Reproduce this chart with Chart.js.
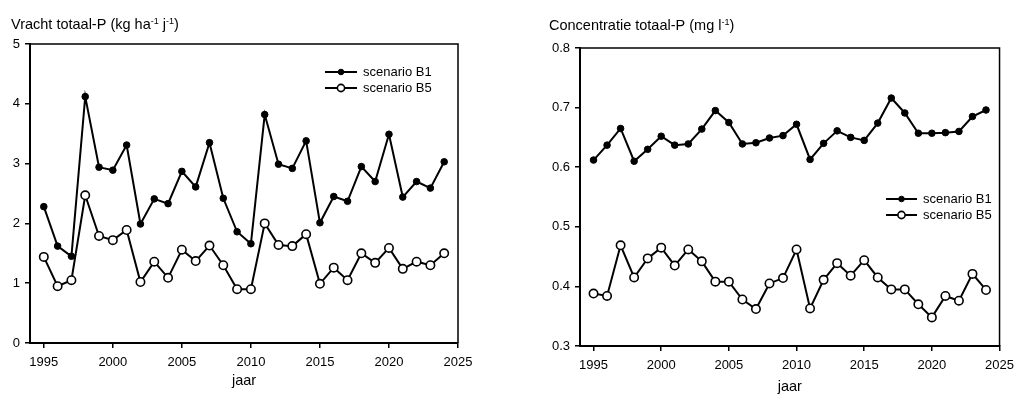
<!DOCTYPE html>
<html>
<head>
<meta charset="utf-8">
<script src="https://cdn.jsdelivr.net/npm/chart.js@4.4.1/dist/chart.umd.min.js"></script>
<style>
  body { margin: 0; background: #fff; }
  #left { position: absolute; left: 0; top: 0; }
  #right { position: absolute; left: 510px; top: 0; }
</style>
</head>
<body>
<canvas id="left" width="510" height="396"></canvas>
<canvas id="right" width="511" height="396"></canvas>
<script>
  const years = [1995, 1996, 1997, 1998, 1999, 2000, 2001, 2002, 2003, 2004,
                 2005, 2006, 2007, 2008, 2009, 2010, 2011, 2012, 2013, 2014,
                 2015, 2016, 2017, 2018, 2019, 2020, 2021, 2022, 2023, 2024];
  const xTicks = [1995, 2000, 2005, 2010, 2015, 2020, 2025];

  // vracht totaal-P (kg/ha/j)
  const vrachtB1 = [2.28, 1.62, 1.45, 4.12, 2.94, 2.89, 3.31, 1.99, 2.41, 2.33,
                    2.87, 2.61, 3.35, 2.42, 1.86, 1.66, 3.82, 2.99, 2.92, 3.38,
                    2.01, 2.45, 2.37, 2.95, 2.70, 3.49, 2.44, 2.70, 2.59, 3.03];
  const vrachtB5 = [1.44, 0.95, 1.05, 2.47, 1.79, 1.72, 1.89, 1.02, 1.36, 1.09,
                    1.56, 1.37, 1.63, 1.30, 0.90, 0.90, 2.00, 1.64, 1.62, 1.82,
                    0.99, 1.26, 1.05, 1.50, 1.34, 1.59, 1.24, 1.36, 1.30, 1.50];
  const vrachtTicks = [0, 1, 2, 3, 4, 5];

  // concentratie totaal-P (mg/l)
  const concB1 = [0.612, 0.637, 0.665, 0.610, 0.630, 0.652, 0.637, 0.639, 0.664, 0.695,
                  0.675, 0.639, 0.641, 0.649, 0.653, 0.672, 0.613, 0.640, 0.661, 0.650,
                  0.645, 0.674, 0.716, 0.691, 0.657, 0.657, 0.658, 0.660, 0.685, 0.696];
  const concB5 = [0.388, 0.384, 0.469, 0.415, 0.447, 0.465, 0.435, 0.462, 0.442, 0.408,
                  0.408, 0.378, 0.362, 0.405, 0.414, 0.462, 0.363, 0.411, 0.439, 0.418,
                  0.444, 0.415, 0.395, 0.395, 0.370, 0.348, 0.384, 0.376, 0.421, 0.394];
  const concTicks = [0.3, 0.4, 0.5, 0.6, 0.7, 0.8];

  const seriesLabels = ['scenario B1', 'scenario B5'];

  Chart.defaults.font.family = "'Liberation Sans', Arial, sans-serif";
  Chart.defaults.color = '#000';

  // title with superscripts, box frame and legend inside the plot
  const extras = {
    id: 'extras',
    afterDatasetsDraw(chart, args, opts) {
      const ctx = chart.ctx;
      const a = chart.chartArea;
      ctx.save();
      ctx.strokeStyle = '#000';
      ctx.lineWidth = 1.5;
      ctx.beginPath();
      ctx.moveTo(a.left, a.top);
      ctx.lineTo(a.right, a.top);
      ctx.lineTo(a.right, a.bottom);
      ctx.stroke();

      // title
      let x = opts.titleX;
      ctx.fillStyle = '#000';
      ctx.textBaseline = 'alphabetic';
      opts.title.forEach(p => {
        const sup = p.startsWith('^');
        const t = sup ? p.slice(1) : p;
        ctx.font = (sup ? '9px' : '14.5px') + " 'Liberation Sans', Arial, sans-serif";
        ctx.fillText(t, x, opts.titleY - (sup ? 5 : 0));
        x += ctx.measureText(t).width;
      });

      // legend
      chart.data.datasets.forEach((ds, i) => {
        const y = opts.legY + i * opts.legGap;
        ctx.strokeStyle = '#000';
        ctx.lineWidth = 2;
        ctx.beginPath();
        ctx.moveTo(opts.legX, y);
        ctx.lineTo(opts.legX + opts.legLen, y);
        ctx.stroke();
        ctx.beginPath();
        ctx.arc(opts.legX + opts.legLen / 2, y, i === 0 ? 2.8 : 3.6, 0, Math.PI * 2);
        ctx.fillStyle = ds.pointBackgroundColor;
        ctx.fill();
        ctx.lineWidth = ds.pointBorderWidth;
        ctx.stroke();
        ctx.fillStyle = '#000';
        ctx.font = "13px 'Liberation Sans', Arial, sans-serif";
        ctx.textBaseline = 'middle';
        ctx.fillText(ds.label, opts.legX + opts.legLen + 6, y);
      });
      ctx.restore();
    }
  };

  function pairs(vals) {
    return years.map((yr, i) => ({ x: yr, y: vals[i] }));
  }

  function makeChart(id, b1, b5, yMin, yMax, yTicks, fmt, lay) {
    new Chart(id, {
      type: 'line',
      data: {
        datasets: [{
          label: seriesLabels[0],
          data: pairs(b1),
          borderColor: '#000',
          borderWidth: 2,
          pointRadius: 3.3,
          pointBackgroundColor: '#000',
          pointBorderColor: '#000',
          pointBorderWidth: 1,
          tension: 0
        }, {
          label: seriesLabels[1],
          data: pairs(b5),
          borderColor: '#000',
          borderWidth: 2,
          pointRadius: 4.2,
          pointBackgroundColor: '#fff',
          pointBorderColor: '#000',
          pointBorderWidth: 1.6,
          tension: 0
        }]
      },
      options: {
        responsive: false,
        animation: false,
        layout: { padding: lay.padding },
        plugins: {
          legend: { display: false },
          tooltip: { enabled: false },
          extras: lay.extras
        },
        scales: {
          x: {
            type: 'linear',
            min: 1994,
            max: 2025,
            afterBuildTicks: s => { s.ticks = xTicks.map(v => ({ value: v })); },
            afterFit: s => { s.height = lay.xHeight; },
            grid: { drawOnChartArea: false, drawTicks: true, tickLength: 5, color: '#000', lineWidth: 1.5 },
            border: { display: true, color: '#000', width: 2 },
            ticks: { color: '#000', font: { size: 13 }, padding: 7, maxRotation: 0, autoSkip: false,
                     callback: v => String(v) },
            title: { display: true, text: 'jaar', color: '#000', font: { size: 14.5 },
                     padding: { top: 0, bottom: lay.jaarPad } }
          },
          y: {
            min: yMin,
            max: yMax,
            afterBuildTicks: s => { s.ticks = yTicks.map(v => ({ value: v })); },
            afterFit: s => { s.width = lay.yWidth; },
            grid: { drawOnChartArea: false, drawTicks: true, tickLength: 5, color: '#000', lineWidth: 1.5 },
            border: { display: true, color: '#000', width: 2 },
            ticks: { color: '#000', font: { size: 13 }, padding: 5, callback: fmt }
          }
        }
      },
      plugins: [extras]
    });
  }

  makeChart('left', vrachtB1, vrachtB5, 0, 5, vrachtTicks, v => String(v), {
    padding: { left: 0, top: 44, right: 52, bottom: 0 },
    yWidth: 30, xHeight: 53, jaarPad: 6,
    extras: {
      title: ['Vracht totaal-P (kg ha', '^-1', ' j', '^-1', ')'],
      titleX: 11, titleY: 29,
      legX: 325, legY: 72, legGap: 16, legLen: 32
    }
  });

  makeChart('right', concB1, concB5, 0.3, 0.8, concTicks, v => v.toFixed(1), {
    padding: { left: 0, top: 48, right: 16, bottom: 0 },
    yWidth: 70, xHeight: 50, jaarPad: 0,
    extras: {
      title: ['Concentratie totaal-P (mg l', '^-1', ')'],
      titleX: 39, titleY: 30,
      legX: 376, legY: 199, legGap: 16, legLen: 31
    }
  });
</script>
</body>
</html>
